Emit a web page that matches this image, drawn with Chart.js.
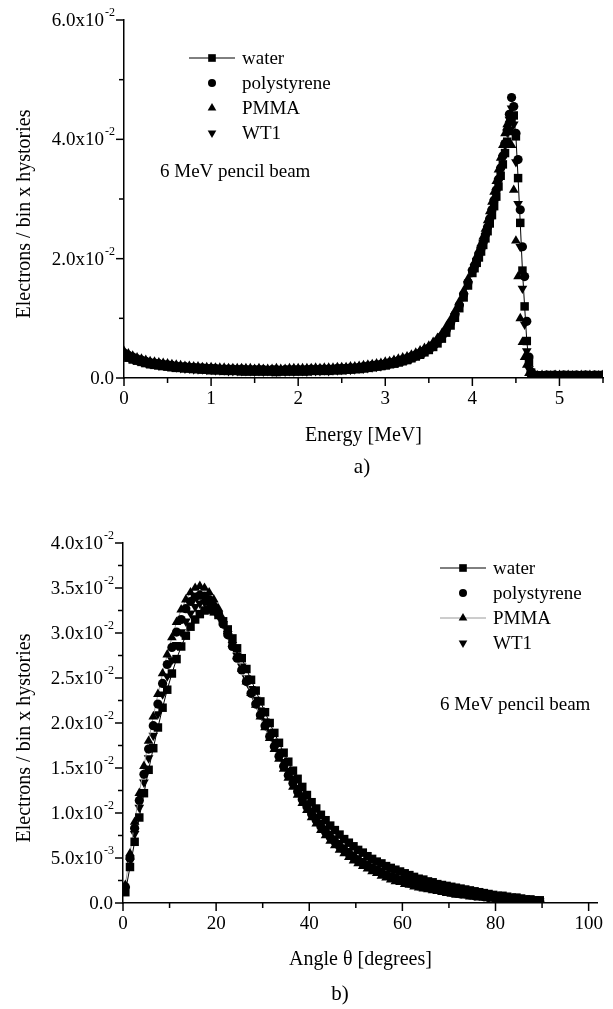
<!DOCTYPE html>
<html>
<head>
<meta charset="utf-8">
<title>Electron spectra, 6 MeV pencil beam</title>
<script src="https://cdn.jsdelivr.net/npm/chart.js@4.4.1/dist/chart.umd.min.js"></script>
<style>
  body { margin: 0; background: #fff; width: 613px; height: 1009px; position: relative; overflow: hidden; font-family: "Liberation Serif", serif; }
  canvas { position: absolute; left: 0; }
  #energyChart { top: 0; }
  #angleChart { top: 490px; }
  .panel { position: absolute; font-size: 21px; color: #000; transform: translate(-50%, -50%); }
</style>
</head>
<body>
<canvas id="energyChart" width="613" height="490"></canvas>
<canvas id="angleChart" width="613" height="519"></canvas>
<div class="panel" style="left:362px; top:466px;">a)</div>
<div class="panel" style="left:340px; top:993px;">b)</div>
<script>
"use strict";

// ---- panel a) : energy spectrum (values in units of 1e-2) ----
const energy = [
  0,0.05,0.1,0.15,0.2,0.25,0.3,0.35,0.4,0.45,
  0.5,0.55,0.6,0.65,0.7,0.75,0.8,0.85,0.9,0.95,
  1,1.05,1.1,1.15,1.2,1.25,1.3,1.35,1.4,1.45,
  1.5,1.55,1.6,1.65,1.7,1.75,1.8,1.85,1.9,1.95,
  2,2.05,2.1,2.15,2.2,2.25,2.3,2.35,2.4,2.45,
  2.5,2.55,2.6,2.65,2.7,2.75,2.8,2.85,2.9,2.95,
  3,3.05,3.1,3.15,3.2,3.25,3.3,3.35,3.4,3.45,
  3.5,3.55,3.6,3.65,3.7,3.75,3.8,3.85,3.9,3.95,
  4,4.025,4.05,4.075,4.1,4.125,4.15,4.175,4.2,4.225,4.25,4.275,4.3,4.325,4.35,4.375,
  4.4,4.425,4.45,4.475,4.5,4.525,4.55,4.575,4.6,4.625,4.65,4.675,4.7,4.725,4.75,
  4.8,4.85,4.9,4.95,5,5.05,5.1,5.15,5.2,5.25,5.3,5.35,5.4,5.45,5.5
];
const waterE = [
  0.37,0.34,0.31,0.29,0.27,0.25,0.23,0.22,0.21,0.20,
  0.19,0.18,0.17,0.17,0.16,0.16,0.15,0.15,0.14,0.14,
  0.13,0.13,0.13,0.12,0.12,0.12,0.12,0.11,0.11,0.11,
  0.11,0.11,0.11,0.11,0.11,0.10,0.11,0.11,0.11,0.11,
  0.11,0.11,0.11,0.12,0.12,0.12,0.12,0.12,0.13,0.13,
  0.13,0.14,0.14,0.15,0.15,0.16,0.17,0.18,0.19,0.20,
  0.21,0.23,0.24,0.26,0.28,0.30,0.33,0.36,0.39,0.43,
  0.47,0.52,0.58,0.66,0.76,0.88,1.01,1.17,1.35,1.55,
  1.76,1.84,1.93,2.02,2.12,2.23,2.34,2.46,2.59,2.73,2.88,3.04,3.21,3.39,3.58,3.77,
  3.96,4.14,4.30,4.40,4.05,3.35,2.60,1.80,1.20,0.62,0.26,0.09,0.05,0.04,0.04,
  0.04,0.04,0.05,0.04,0.04,0.05,0.04,0.05,0.04,0.04,0.05,0.04,0.04,0.05,0.04
];
const polystyreneE = [
  0.42,0.38,0.35,0.32,0.30,0.28,0.26,0.25,0.24,0.23,
  0.22,0.21,0.20,0.19,0.19,0.18,0.18,0.17,0.17,0.16,
  0.16,0.16,0.15,0.15,0.15,0.15,0.14,0.15,0.14,0.14,
  0.14,0.14,0.14,0.13,0.14,0.14,0.13,0.14,0.14,0.14,
  0.14,0.14,0.14,0.15,0.14,0.15,0.15,0.15,0.15,0.16,
  0.16,0.16,0.17,0.17,0.18,0.19,0.20,0.21,0.22,0.23,
  0.24,0.26,0.27,0.29,0.31,0.33,0.36,0.39,0.42,0.46,
  0.50,0.55,0.62,0.70,0.80,0.92,1.06,1.22,1.40,1.60,
  1.80,1.88,1.97,2.07,2.17,2.28,2.40,2.53,2.67,2.82,2.98,3.15,3.33,3.52,3.72,3.93,
  4.15,4.42,4.70,4.55,4.10,3.66,2.82,2.20,1.70,0.95,0.35,0.10,0.05,0.04,0.04,
  0.04,0.05,0.04,0.05,0.04,0.05,0.04,0.04,0.05,0.04,0.05,0.04,0.05,0.04,0.05
];
const pmmaE = [
  0.45,0.41,0.37,0.34,0.32,0.30,0.28,0.27,0.26,0.25,
  0.24,0.23,0.22,0.21,0.20,0.20,0.19,0.19,0.18,0.18,
  0.18,0.17,0.17,0.17,0.16,0.16,0.16,0.16,0.16,0.16,
  0.15,0.16,0.15,0.15,0.15,0.16,0.15,0.15,0.16,0.16,
  0.16,0.16,0.16,0.16,0.17,0.16,0.17,0.17,0.17,0.18,
  0.18,0.18,0.19,0.19,0.20,0.21,0.22,0.23,0.24,0.25,
  0.27,0.28,0.30,0.32,0.34,0.36,0.39,0.42,0.46,0.50,
  0.54,0.60,0.67,0.75,0.86,0.98,1.12,1.28,1.46,1.66,
  1.85,1.94,2.04,2.14,2.25,2.37,2.50,2.64,2.79,2.95,3.12,3.30,3.49,3.69,3.90,4.10,
  4.25,4.33,3.90,3.15,2.30,1.70,1.00,0.60,0.35,0.22,0.08,0.04,0.04,0.03,0.04,
  0.05,0.04,0.04,0.05,0.05,0.04,0.05,0.04,0.04,0.05,0.04,0.05,0.04,0.04,0.05
];
const wt1E = [
  0.39,0.35,0.32,0.30,0.27,0.26,0.24,0.23,0.21,0.21,
  0.20,0.19,0.18,0.17,0.16,0.16,0.15,0.15,0.15,0.14,
  0.14,0.13,0.13,0.13,0.12,0.12,0.12,0.12,0.12,0.12,
  0.11,0.12,0.11,0.12,0.11,0.11,0.12,0.11,0.12,0.11,
  0.12,0.12,0.11,0.12,0.12,0.12,0.13,0.12,0.13,0.13,
  0.14,0.14,0.14,0.15,0.16,0.16,0.17,0.18,0.19,0.20,
  0.22,0.23,0.25,0.26,0.28,0.31,0.33,0.36,0.40,0.43,
  0.48,0.53,0.59,0.67,0.77,0.89,1.03,1.19,1.37,1.57,
  1.78,1.86,1.95,2.05,2.15,2.26,2.38,2.50,2.64,2.79,2.95,3.12,3.30,3.49,3.69,3.90,
  4.12,4.33,4.52,4.25,3.62,2.92,2.20,1.50,0.90,0.45,0.15,0.06,0.04,0.04,0.03,
  0.04,0.05,0.05,0.04,0.05,0.04,0.04,0.05,0.05,0.04,0.04,0.05,0.05,0.04,0.04
];

// ---- panel b) : angular distribution (values in units of 1e-2) ----
const angle = [
  0.5,1.5,2.5,3.5,4.5,5.5,6.5,7.5,8.5,9.5,
  10.5,11.5,12.5,13.5,14.5,15.5,16.5,17.5,18.5,19.5,
  20.5,21.5,22.5,23.5,24.5,25.5,26.5,27.5,28.5,29.5,
  30.5,31.5,32.5,33.5,34.5,35.5,36.5,37.5,38.5,39.5,
  40.5,41.5,42.5,43.5,44.5,45.5,46.5,47.5,48.5,49.5,
  50.5,51.5,52.5,53.5,54.5,55.5,56.5,57.5,58.5,59.5,
  60.5,61.5,62.5,63.5,64.5,65.5,66.5,67.5,68.5,69.5,
  70.5,71.5,72.5,73.5,74.5,75.5,76.5,77.5,78.5,79.5,
  80.5,81.5,82.5,83.5,84.5,85.5,86.5,87.5,88.5,89.5
];
const waterA = [
  0.12,0.40,0.68,0.95,1.22,1.48,1.72,1.95,2.17,2.37,
  2.55,2.71,2.85,2.97,3.07,3.15,3.21,3.25,3.26,3.24,
  3.20,3.13,3.04,2.94,2.83,2.72,2.60,2.48,2.36,2.24,
  2.12,2.00,1.89,1.78,1.67,1.57,1.47,1.38,1.29,1.20,
  1.12,1.05,0.98,0.92,0.86,0.81,0.76,0.71,0.67,0.63,
  0.59,0.56,0.52,0.49,0.46,0.44,0.41,0.39,0.37,0.35,
  0.33,0.31,0.29,0.27,0.26,0.24,0.23,0.21,0.20,0.19,
  0.18,0.17,0.16,0.15,0.14,0.13,0.12,0.11,0.10,0.09,
  0.08,0.08,0.07,0.06,0.06,0.05,0.04,0.04,0.03,0.03
];
const polystyreneA = [
  0.18,0.50,0.83,1.14,1.43,1.71,1.97,2.21,2.44,2.65,
  2.84,3.01,3.15,3.27,3.35,3.40,3.42,3.41,3.37,3.30,
  3.21,3.10,2.98,2.85,2.72,2.59,2.46,2.33,2.21,2.09,
  1.97,1.85,1.74,1.63,1.52,1.42,1.33,1.24,1.15,1.07,
  0.99,0.92,0.85,0.79,0.73,0.68,0.63,0.59,0.55,0.51,
  0.47,0.44,0.41,0.38,0.36,0.33,0.31,0.29,0.27,0.25,
  0.24,0.22,0.21,0.19,0.18,0.17,0.16,0.15,0.14,0.13,
  0.12,0.11,0.10,0.10,0.09,0.08,0.08,0.07,0.06,0.06,
  0.05,0.05,0.04,0.04,0.03,0.03,0.03,0.02,0.02,0.02
];
const pmmaA = [
  0.20,0.55,0.90,1.22,1.52,1.80,2.07,2.32,2.55,2.76,
  2.95,3.12,3.26,3.37,3.45,3.50,3.52,3.50,3.45,3.37,
  3.27,3.15,3.02,2.88,2.74,2.60,2.46,2.33,2.20,2.07,
  1.95,1.83,1.71,1.60,1.49,1.39,1.29,1.20,1.11,1.03,
  0.95,0.88,0.81,0.75,0.69,0.64,0.59,0.55,0.51,0.47,
  0.44,0.41,0.38,0.35,0.33,0.30,0.28,0.26,0.24,0.23,
  0.21,0.20,0.18,0.17,0.16,0.15,0.14,0.13,0.12,0.11,
  0.10,0.09,0.09,0.08,0.07,0.07,0.06,0.06,0.05,0.05,
  0.04,0.04,0.03,0.03,0.03,0.02,0.02,0.02,0.01,0.01
];
const wt1A = [
  0.15,0.46,0.77,1.06,1.34,1.61,1.86,2.10,2.32,2.52,
  2.70,2.87,3.01,3.13,3.22,3.29,3.33,3.34,3.31,3.26,
  3.19,3.10,2.99,2.87,2.75,2.63,2.50,2.38,2.26,2.14,
  2.02,1.90,1.79,1.68,1.57,1.47,1.38,1.28,1.20,1.11,
  1.03,0.96,0.89,0.83,0.77,0.72,0.67,0.62,0.58,0.54,
  0.50,0.47,0.44,0.41,0.38,0.36,0.33,0.31,0.29,0.27,
  0.26,0.24,0.23,0.21,0.20,0.19,0.17,0.16,0.15,0.14,
  0.13,0.12,0.12,0.11,0.10,0.09,0.09,0.08,0.07,0.07,
  0.06,0.06,0.05,0.05,0.04,0.04,0.03,0.03,0.02,0.02
];

const seriesNames = ["water", "polystyrene", "PMMA", "WT1"];
const noteText = "6 MeV pencil beam";

const FONT = '"Liberation Serif", "Times New Roman", serif';

function pts(xs, ys) {
  return xs.map(function(x, i) { return {x: x, y: ys[i]}; });
}

function isMult(v, step) {
  return Math.abs(v / step - Math.round(v / step)) < 1e-6;
}

// marker styles, shared by datasets and the hand drawn legend
const markers = [
  {pointStyle: "rect", radius: 6, rotation: 0},
  {pointStyle: "circle", radius: 4.6, rotation: 0},
  {pointStyle: "triangle", radius: 5.6, rotation: 0},
  {pointStyle: "triangle", radius: 5.6, rotation: 180}
];

function makeSets(xs, lists, lines) {
  return lists.map(function(ys, i) {
    return {
      label: seriesNames[i],
      data: pts(xs, ys),
      showLine: !!lines[i],
      borderColor: lines[i] || "#000",
      borderWidth: lines[i] ? 1 : 0,
      pointStyle: markers[i].pointStyle,
      pointRotation: markers[i].rotation,
      pointRadius: markers[i].radius,
      pointBackgroundColor: "#000",
      pointBorderColor: "#000",
      pointBorderWidth: 0
    };
  });
}

// ticks, tick labels with superscripts, y title, legend, note
const paperAxes = {
  id: "paperAxes",
  afterDraw(chart, args, o) {
    const ctx = chart.ctx, a = chart.chartArea;
    const xs = chart.scales.x, ys = chart.scales.y;
    ctx.save();
    ctx.strokeStyle = "#000";
    ctx.lineWidth = 1.5;
    xs.ticks.forEach(function(t) {
      const px = xs.getPixelForValue(t.value);
      ctx.beginPath();
      ctx.moveTo(px, a.bottom);
      ctx.lineTo(px, a.bottom + (isMult(t.value, o.xMajor) ? 8 : 5));
      ctx.stroke();
    });
    ys.ticks.forEach(function(t) {
      const py = ys.getPixelForValue(t.value);
      const major = isMult(t.value, o.yMajor);
      ctx.beginPath();
      ctx.moveTo(a.left, py);
      ctx.lineTo(a.left - (major ? 8 : 5), py);
      ctx.stroke();
      if (!major) return;
      const lab = o.yLabel(t.value);
      ctx.fillStyle = "#000";
      ctx.textBaseline = "middle";
      ctx.textAlign = "left";
      ctx.font = "12px " + FONT;
      const supW = lab[1] ? ctx.measureText(lab[1]).width : 0;
      ctx.font = "19px " + FONT;
      const mainW = ctx.measureText(lab[0]).width;
      const x0 = a.left - 10 - supW - mainW;
      ctx.fillText(lab[0], x0, py + 1);
      if (lab[1]) {
        ctx.font = "12px " + FONT;
        ctx.fillText(lab[1], x0 + mainW + 1, py - 7);
      }
    });

    // y axis title
    ctx.fillStyle = "#000";
    ctx.font = "20px " + FONT;
    ctx.textAlign = "center";
    ctx.textBaseline = "middle";
    ctx.save();
    ctx.translate(25, o.yTitleY);
    ctx.rotate(-Math.PI / 2);
    ctx.fillText("Electrons / bin x hystories", 0, 0);
    ctx.restore();

    // legend
    const lg = o.legend;
    ctx.font = "19px " + FONT;
    ctx.textAlign = "left";
    seriesNames.forEach(function(name, i) {
      const y = lg.y + i * 25;
      if (lg.lines[i]) {
        ctx.strokeStyle = lg.lines[i];
        ctx.lineWidth = 1;
        ctx.beginPath();
        ctx.moveTo(lg.x - 23, y);
        ctx.lineTo(lg.x + 23, y);
        ctx.stroke();
      }
      ctx.fillStyle = "#000";
      Chart.helpers.drawPoint(ctx, {
        pointStyle: markers[i].pointStyle,
        rotation: markers[i].rotation,
        radius: markers[i].radius - 0.6,
        borderWidth: 0
      }, lg.x, y);
      ctx.fillText(name, lg.x + 30, y + 1);
    });
    ctx.fillText(noteText, o.note.x, o.note.y);
    ctx.restore();
  }
};

function baseOptions(cfg) {
  return {
    responsive: false,
    animation: false,
    events: [],
    layout: {padding: cfg.padding},
    plugins: {
      legend: {display: false},
      tooltip: {enabled: false},
      paperAxes: cfg.paper
    },
    scales: {
      x: {
        type: "linear",
        min: cfg.xMin, max: cfg.xMax,
        border: {display: true, color: "#000", width: 1.5},
        grid: {drawOnChartArea: false, drawTicks: false},
        ticks: {
          stepSize: cfg.xStep, includeBounds: false, autoSkip: false, maxRotation: 0,
          padding: 10, color: "#000", font: {family: FONT, size: 19},
          callback: function(v) { return isMult(v, cfg.paper.xMajor) ? String(Math.round(v)) : ""; }
        },
        title: {display: true, text: cfg.xTitle, color: "#000", font: {family: FONT, size: 20}, padding: 0},
        afterFit: function(s) { s.height = cfg.xHeight; }
      },
      y: {
        type: "linear",
        min: 0, max: cfg.yMax,
        border: {display: true, color: "#000", width: 1.5},
        grid: {drawOnChartArea: false, drawTicks: false},
        ticks: {stepSize: cfg.yStep, display: false},
        afterFit: function(s) { s.width = cfg.yWidth; }
      }
    }
  };
}

new Chart(document.getElementById("energyChart"), {
  type: "scatter",
  data: {datasets: makeSets(energy, [waterE, polystyreneE, pmmaE, wt1E], ["#000", null, null, null])},
  options: baseOptions({
    padding: {top: 20, right: 3, bottom: 42, left: 0},
    xMin: 0, xMax: 5.5, xStep: 0.5, xTitle: "Energy [MeV]", xHeight: 70,
    yMax: 6, yStep: 1, yWidth: 124,
    paper: {
      xMajor: 1, yMajor: 2, yTitleY: 214,
      yLabel: function(v) { return v === 0 ? ["0.0", ""] : [v.toFixed(1) + "x10", "-2"]; },
      legend: {x: 212, y: 58, lines: ["#000", null, null, null]},
      note: {x: 160, y: 172}
    }
  }),
  plugins: [paperAxes]
});

new Chart(document.getElementById("angleChart"), {
  type: "scatter",
  data: {datasets: makeSets(angle, [waterA, polystyreneA, pmmaA, wt1A], ["#000", null, "#9a9a9a", null])},
  options: baseOptions({
    padding: {top: 53, right: 5, bottom: 37, left: 0},
    xMin: 0, xMax: 102, xStep: 10, xTitle: "Angle θ [degrees]", xHeight: 69,
    yMax: 4, yStep: 0.25, yWidth: 123,
    paper: {
      xMajor: 20, yMajor: 0.5, yTitleY: 248,
      yLabel: function(v) {
        if (v === 0) return ["0.0", ""];
        if (v < 1) return [(v * 10).toFixed(1) + "x10", "-3"];
        return [v.toFixed(1) + "x10", "-2"];
      },
      legend: {x: 463, y: 78, lines: ["#000", null, "#9a9a9a", null]},
      note: {x: 440, y: 215}
    }
  }),
  plugins: [paperAxes]
});
</script>
</body>
</html>
